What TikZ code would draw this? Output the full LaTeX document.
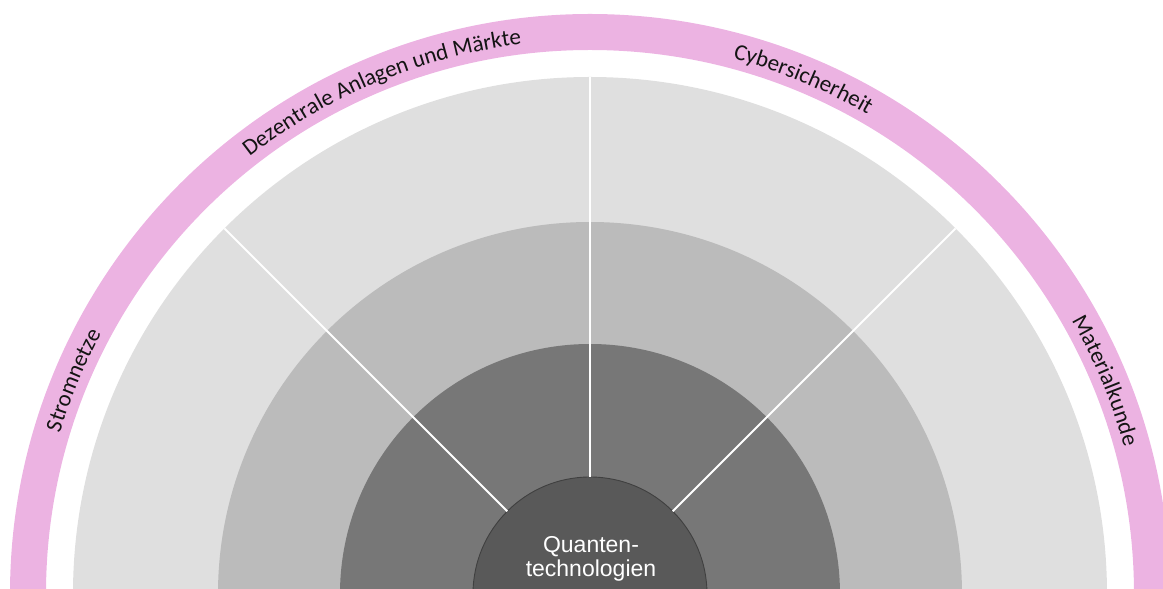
\documentclass[tikz,border=0pt]{standalone}
\usepackage{fontspec}
\newfontfamily\carlito{Carlito}
\newfontfamily\arialf{Liberation Sans}
\usetikzlibrary{decorations.text}
\definecolor{pinkband}{RGB}{236,179,226}
\definecolor{ringA}{RGB}{223,223,223}
\definecolor{ringB}{RGB}{187,187,187}
\definecolor{ringC}{RGB}{119,119,119}
\definecolor{core}{RGB}{89,89,89}
\definecolor{labeltext}{RGB}{20,20,20}
\tikzset{
  divider/.style={draw=white, line width=2pt},
  ring/.style={fill=#1, draw=none},
  bandtext/.style={decorate, decoration={text along path, text align=center, text color=labeltext}},
  corebox/.style={circle, fill=core, draw=black!75, line width=0.9pt, minimum size=234pt, inner sep=0pt, outer sep=0pt},
  corelabel/.style={text=white, font=\arialf\fontsize{23}{23.5}\selectfont, align=center, inner sep=0pt}
}
\begin{document}
\begin{tikzpicture}[x=1pt,y=1pt]
  \useasboundingbox (-590,5) rectangle (573,594);
  \clip (-590,5) rectangle (573,594);
  % pink outer band
  \draw[pinkband, line width=36pt] (0,0) circle (562pt);
  % rings
  \fill[ring=ringA] (0,0) circle (517pt);
  \fill[ring=ringB] (0,0) circle (372pt);
  \fill[ring=ringC] (0,0) circle (250pt);
  % core
  \node[corebox] (core) at (0,0) {};
  \node[corelabel] (coretext) at (1,35) {Quanten-\\technologien};
  % dividers
  \coordinate (d45) at (45:517pt);
  \coordinate (d90) at (90:517pt);
  \coordinate (d135) at (135:517pt);
  \draw[divider] (core.45) -- (d45);
  \draw[divider] (core.90) -- (d90);
  \draw[divider] (core.135) -- (d135);
  % band labels
  \path[bandtext, decoration={text={|\carlito\fontsize{23}{27}\selectfont|Stromnetze}}]
    (180:554pt) arc[start angle=180, end angle=135, radius=554pt];
  \path[bandtext, decoration={text={|\carlito\fontsize{23}{27}\selectfont|Dezentrale Anlagen und Märkte}}]
    (135:554pt) arc[start angle=135, end angle=90, radius=554pt];
  \path[bandtext, decoration={text={|\carlito\fontsize{23}{27}\selectfont|Cybersicherheit}}]
    (90:554pt) arc[start angle=90, end angle=45, radius=554pt];
  \path[bandtext, decoration={text={|\carlito\fontsize{23}{27}\selectfont|Materialkunde}}]
    (45:554pt) arc[start angle=45, end angle=0, radius=554pt];
\end{tikzpicture}
\end{document}
